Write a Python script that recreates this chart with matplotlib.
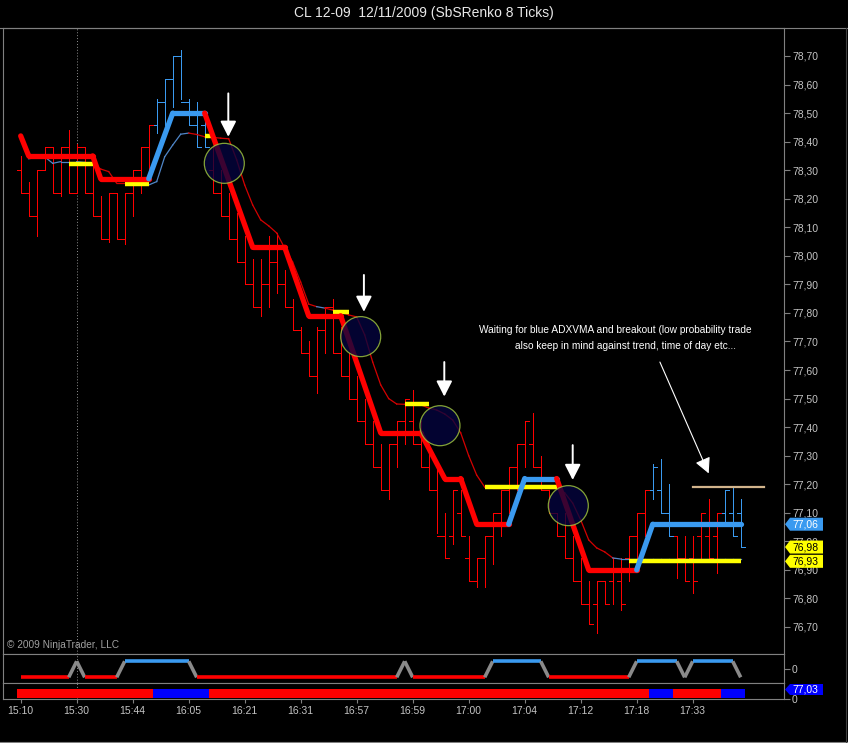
import numpy as np
import matplotlib
matplotlib.use('Agg')
import matplotlib.pyplot as plt
import matplotlib.transforms as mtransforms
from matplotlib.patches import Ellipse, Polygon

plt.rcParams['font.family'] = ['Liberation Sans', 'DejaVu Sans']

FIG_W, FIG_H = 848, 743

# SbS renko bars, 8 ticks
highs = [78.35, 78.26, 78.30, 78.38, 78.38, 78.38, 78.44, 78.39, 78.38, 78.35,
         78.21, 78.22, 78.22, 78.22, 78.30, 78.38, 78.46, 78.55, 78.62, 78.70,
         78.72, 78.55, 78.54, 78.50, 78.38, 78.30, 78.22, 78.15, 78.07, 77.99,
         77.99, 78.07, 78.08, 77.95, 77.85, 77.75, 77.70, 77.75, 77.82, 77.85,
         77.75, 77.66, 77.58, 77.50, 77.42, 77.34, 77.34, 77.42, 77.50, 77.53,
         77.42, 77.34, 77.26, 77.10, 77.18, 77.18, 77.02, 76.94, 77.02, 77.10,
         77.18, 77.26, 77.34, 77.42, 77.45, 77.30, 77.18, 77.10, 77.10, 77.02,
         76.94, 76.86, 76.86, 76.86, 76.94, 76.94, 77.02, 77.10, 77.18, 77.27,
         77.29, 77.20, 77.02, 77.02, 77.02, 77.10, 77.15, 77.10, 77.18, 77.19,
         77.15]
lows = [78.22, 78.14, 78.07, 78.30, 78.22, 78.21, 78.22, 78.22, 78.22, 78.14,
        78.06, 78.05, 78.06, 78.04, 78.14, 78.22, 78.30, 78.43, 78.46, 78.52,
        78.55, 78.46, 78.38, 78.38, 78.22, 78.14, 78.06, 77.98, 77.90, 77.82,
        77.79, 77.82, 77.87, 77.82, 77.74, 77.66, 77.58, 77.52, 77.66, 77.66,
        77.58, 77.50, 77.42, 77.34, 77.26, 77.18, 77.15, 77.26, 77.34, 77.34,
        77.26, 77.18, 77.03, 76.94, 76.99, 77.02, 76.86, 76.84, 76.84, 76.92,
        77.02, 77.10, 77.18, 77.26, 77.26, 77.18, 77.10, 77.02, 76.94, 76.86,
        76.78, 76.71, 76.68, 76.78, 76.78, 76.76, 76.86, 76.94, 77.02, 77.15,
        77.10, 77.02, 76.87, 76.86, 76.82, 76.94, 76.94, 76.89, 77.07, 77.02,
        76.98]
opens = [78.30, 78.22, 78.14, 78.30, 78.38, 78.22, 78.38, 78.22, 78.38, 78.22,
         78.14, 78.06, 78.22, 78.06, 78.22, 78.30, 78.38, 78.46, 78.54, 78.62,
         78.70, 78.54, 78.46, 78.46, 78.30, 78.22, 78.14, 78.06, 77.98, 77.90,
         77.82, 77.90, 77.98, 77.90, 77.82, 77.74, 77.66, 77.58, 77.74, 77.82,
         77.66, 77.58, 77.50, 77.42, 77.34, 77.26, 77.18, 77.34, 77.42, 77.42,
         77.34, 77.26, 77.18, 77.02, 77.02, 77.10, 76.94, 76.86, 76.94, 77.02,
         77.10, 77.18, 77.26, 77.34, 77.34, 77.26, 77.18, 77.10, 77.02, 76.94,
         76.86, 76.78, 76.78, 76.86, 76.86, 76.86, 76.94, 77.02, 77.10, 77.18,
         77.18, 77.10, 77.02, 76.94, 76.94, 77.02, 77.02, 77.02, 77.10, 77.10,
         77.10]
closes = [78.22, 78.14, 78.30, 78.38, 78.22, 78.38, 78.22, 78.38, 78.22, 78.14,
          78.06, 78.22, 78.06, 78.22, 78.30, 78.38, 78.46, 78.54, 78.62, 78.70,
          78.54, 78.46, 78.38, 78.38, 78.22, 78.14, 78.06, 77.98, 77.90, 77.82,
          77.90, 77.98, 77.90, 77.82, 77.74, 77.66, 77.58, 77.74, 77.82, 77.66,
          77.58, 77.50, 77.42, 77.34, 77.26, 77.18, 77.34, 77.42, 77.50, 77.34,
          77.26, 77.18, 77.02, 76.94, 77.18, 77.02, 76.86, 76.94, 77.02, 77.10,
          77.18, 77.26, 77.34, 77.42, 77.26, 77.18, 77.10, 77.02, 76.94, 76.86,
          76.78, 76.71, 76.86, 76.78, 76.94, 76.78, 77.02, 77.10, 77.18, 77.26,
          77.10, 77.02, 76.94, 76.86, 76.86, 77.10, 76.94, 77.10, 77.18, 77.02,
          76.98]
# 1 = up trend (blue), 0 = down trend (red); also the lower colour strip
bar_up = [0] * 17 + [1] * 7 + [0] * 55 + [1] * 3 + [0] * 6 + [1] * 3

# ADXVMA (thick line) turning points
adx_bar = [0, 1, 9, 10, 16, 19, 23, 29, 33, 36, 40, 45, 50, 53, 55, 57, 61, 63,
           67, 71, 77, 79, 90]
adx_val = [78.42, 78.35, 78.35, 78.27, 78.27, 78.50, 78.50, 78.03, 78.03, 77.79,
           77.79, 77.38, 77.38, 77.22, 77.22, 77.06, 77.06, 77.22, 77.22, 76.90,
           76.90, 77.06, 77.06]
adx_seg_up = [0, 0, 0, 0, 1, 1, 0, 0, 0, 0, 0, 0, 0, 0, 0, 0, 1, 1, 0, 0, 1, 1]

# thin moving average, bars 1..90
ma_val = [78.340, 78.345, 78.347, 78.324, 78.330, 78.330, 78.330, 78.327, 78.324,
          78.304, 78.295, 78.254, 78.254, 78.254, 78.254, 78.248, 78.260, 78.347,
          78.388, 78.426, 78.430, 78.425, 78.417, 78.415, 78.412, 78.410, 78.336,
          78.248, 78.178, 78.126, 78.105, 78.080, 78.027, 77.978, 77.908, 77.831,
          77.822, 77.817, 77.810, 77.803, 77.793, 77.786, 77.723, 77.628, 77.548,
          77.500, 77.481, 77.480, 77.479, 77.478, 77.467, 77.460, 77.446, 77.425,
          77.380, 77.300, 77.232, 77.190, 77.187, 77.187, 77.187, 77.187, 77.187,
          77.187, 77.187, 77.187, 77.187, 77.170, 77.134, 77.075, 77.005, 76.977,
          76.963, 76.942, 76.938, 76.938, 76.938, 76.938, 76.938, 76.938, 76.938,
          76.938, 76.938, 76.938, 76.938, 76.938, 76.938, 76.938, 76.938, 76.938]
ma_up = ([1] * 8 + [0] * 7 + [1] * 5 + [0] * 16 + [1] * 1 + [0] * 36 + [1] * 16)

# breakout levels (yellow) and target (tan)
yellow_start = [6, 13, 23, 39, 48, 58, 76]
yellow_end = [9, 16, 24, 41, 51, 67, 90]
yellow_price = [78.32, 78.25, 78.42, 77.805, 77.48, 77.19, 76.93]
tan_start, tan_end, tan_price = 84, 92.9, 77.19

# marked entries
circle_x = [25.45, 42.5, 52.41, 68.45]
circle_y = [78.324, 77.717, 77.405, 77.125]
arrow_x = [25.95, 42.9, 52.95, 69.0]
arrow_top = [78.569, 77.933, 77.628, 77.337]
arrow_tip = [78.417, 77.804, 77.507, 77.215]
note_from = (79.9, 77.628)
note_to = (86.0, 77.238)

# trend indicator panel: +1 up / -1 down
trend_state = ([-1] * 7 + [1] + [-1] * 5 + [1] * 9 + [-1] * 26 + [1] + [-1] * 10 +
               [1] * 7 + [-1] * 11 + [1] * 6 + [-1] + [1] * 6 + [-1])

time_pos = [0, 7, 14, 21, 28, 35, 42, 49, 56, 63, 70, 77, 84]
time_labels = ['15:10', '15:30', '15:44', '16:05', '16:21', '16:31', '16:57',
               '16:59', '17:00', '17:04', '17:12', '17:18', '17:33']
price_ticks = [76.7, 76.8, 76.9, 77.0, 77.1, 77.2, 77.3, 77.4, 77.5, 77.6,
               77.7, 77.8, 77.9, 78.0, 78.1, 78.2, 78.3, 78.4, 78.5, 78.6, 78.7]

RED = '#ff0000'
BLUE = '#3a9af0'
GRID = '#808080'
TXT = '#c4c4c4'


def fig_rect(x0, y0, x1, y1):
    return [x0 / FIG_W, 1 - y1 / FIG_H, (x1 - x0) / FIG_W, (y1 - y0) / FIG_H]


def style(ax):
    ax.set_facecolor('black')
    for s in ax.spines.values():
        s.set_color(GRID)
        s.set_linewidth(0.8)
    ax.yaxis.tick_right()
    ax.tick_params(axis='y', colors=GRID, labelcolor=TXT, labelsize=7.5,
                   length=4.3, width=0.8, pad=1.5, direction='out')
    ax.set_xlim(-2.2125, 95.4125)


def price_tag(ax, yv, label, face, fg, half_px=6.5):
    y0, y1 = ax.get_ylim()
    pos = ax.get_position()
    hh = half_px * (y1 - y0) / (pos.height * FIG_H)
    px = 1.0 / (pos.width * FIG_W)
    tr = mtransforms.blended_transform_factory(ax.transAxes, ax.transData)
    verts = [(1 + 1 * px, yv), (1 + 6 * px, yv + hh), (1 + 39 * px, yv + hh),
             (1 + 39 * px, yv - hh), (1 + 6 * px, yv - hh)]
    ax.add_patch(Polygon(verts, closed=True, transform=tr, fc=face, ec='none',
                         clip_on=False, zorder=10))
    ax.text(1 + 8 * px, yv, label, transform=tr, ha='left', va='center',
            fontsize=7.5, color=fg, clip_on=False, zorder=11)


fig = plt.figure(figsize=(FIG_W / 100, FIG_H / 100), dpi=100, facecolor='black')
ax = fig.add_axes(fig_rect(3, 28, 784, 654))
ax1 = fig.add_axes(fig_rect(3, 654, 784, 683))
ax2 = fig.add_axes(fig_rect(3, 683, 784, 699))
for a in (ax, ax1, ax2):
    style(a)

x = np.arange(len(highs))
cols = [BLUE if u else RED for u in bar_up]

# price bars (1 px lines)
ax.vlines(x, lows, highs, colors=cols, lw=0.72, antialiased=False, zorder=2)
ax.hlines(opens, x - 0.5, x, colors=cols, lw=0.72, antialiased=False, zorder=2)
ax.hlines(closes, x, x + 0.5, colors=cols, lw=0.72, antialiased=False, zorder=2)

# thin average
mx = x[1:]
for i in range(len(ma_val) - 1):
    ax.plot(mx[i:i + 2], ma_val[i:i + 2], color='#4f86c8' if ma_up[i] else '#d40000',
            lw=0.9, zorder=3)

# breakout levels
for s, e, p in zip(yellow_start, yellow_end, yellow_price):
    ax.plot([s, e], [p, p], color='#ffff00', lw=3.2, solid_capstyle='butt', zorder=3)
ax.plot([tan_start, tan_end], [tan_price, tan_price], color='#d2b48c', lw=1.6, zorder=3)

# ADXVMA
for i in range(len(adx_seg_up)):
    ax.plot(adx_bar[i:i + 2], adx_val[i:i + 2], color=BLUE if adx_seg_up[i] else RED,
            lw=3.8, solid_capstyle='round', solid_joinstyle='round', zorder=4)

# circles and arrows
for cx, cy in zip(circle_x, circle_y):
    ax.add_patch(Ellipse((cx, cy), 5.0, 40 / 285.5, fc='#05053f', ec='#a8d040',
                         lw=0.9, alpha=0.78, zorder=5))
for ax_, t0, t1 in zip(arrow_x, arrow_top, arrow_tip):
    ax.annotate('', xy=(ax_, t1), xytext=(ax_, t0),
                arrowprops=dict(arrowstyle='-|>,head_length=9.4,head_width=4.8',
                                mutation_scale=1, color='white', lw=1.4,
                                shrinkA=0, shrinkB=0), zorder=6)
ax.annotate('', xy=note_to, xytext=note_from,
            arrowprops=dict(arrowstyle='-|>,head_length=9.4,head_width=4.8',
                            mutation_scale=1, color='white', lw=0.8,
                            shrinkA=0, shrinkB=0), zorder=6)
ax.text(74.3, 77.74, 'Waiting for blue ADXVMA and breakout (low probability trade',
        color='white', fontsize=7.3, ha='center', va='center', zorder=7)
ax.text(75.6, 77.683, 'also keep in mind against trend, time of day etc...',
        color='white', fontsize=7.3, ha='center', va='center', zorder=7)

ax.set_ylim(76.6054, 78.798)
ax.set_yticks(price_ticks)
ax.set_yticklabels([f'{p:.2f}'.replace('.', ',') for p in price_ticks])
ax.set_xticks([])
price_tag(ax, 77.06, '77,06', BLUE, 'white')
price_tag(ax, 76.98, '76,98', '#ffff00', 'black')
price_tag(ax, 76.93, '76,93', '#ffff00', 'black')

# trend indicator
for i in range(len(trend_state) - 1):
    a, b = trend_state[i], trend_state[i + 1]
    c = BLUE if a == b == 1 else (RED if a == b == -1 else '#8a8a8a')
    ax1.plot([i, i + 1], [a, b], color=c, lw=2.6, solid_capstyle='butt', zorder=3)
ax1.set_ylim(-1.7125, 1.9125)
ax1.set_yticks([0])
ax1.set_yticklabels(['0'])
ax1.set_xticks([])

# colour strip
ax2.bar(x, 0.545, bottom=0.08, width=1.0,
        color=['#0000ff' if u else '#ff0000' for u in bar_up], zorder=2)
ax2.set_ylim(0, 1)
ax2.set_yticks([0])
ax2.set_yticklabels(['0'])
ax2.set_xticks(time_pos)
ax2.set_xticklabels(time_labels)
ax2.tick_params(axis='x', colors=GRID, labelcolor=TXT, labelsize=7.5,
                length=3, width=0.8, pad=2)
price_tag(ax2, 0.594, '77,03', '#0000ff', 'white', half_px=5.5)

for a in (ax, ax1, ax2):
    a.axvline(7, color='#909090', lw=0.7, ls=(0, (1, 2)), zorder=1)

# frame and captions
fig.add_artist(plt.Line2D([0, 1], [1 - 28 / FIG_H] * 2, color=GRID, lw=0.8))
fig.add_artist(plt.Line2D([0, 1], [1 - 741.5 / FIG_H] * 2, color=GRID, lw=0.8))
fig.add_artist(plt.Line2D([845.5 / FIG_W] * 2, [1 - 741.5 / FIG_H, 1 - 28 / FIG_H],
                          color='#404040', lw=0.8))
fig.text(0.5, 1 - 13 / FIG_H, 'CL 12-09  12/11/2009 (SbSRenko 8 Ticks)',
         color='#e8e8e8', fontsize=10, ha='center', va='center')
fig.text(7 / FIG_W, 1 - 645 / FIG_H, '\u00a9 2009 NinjaTrader, LLC',
         color='#a0a0a0', fontsize=7.3, ha='left', va='center')

fig.savefig('out.png', dpi=100, facecolor='black')
